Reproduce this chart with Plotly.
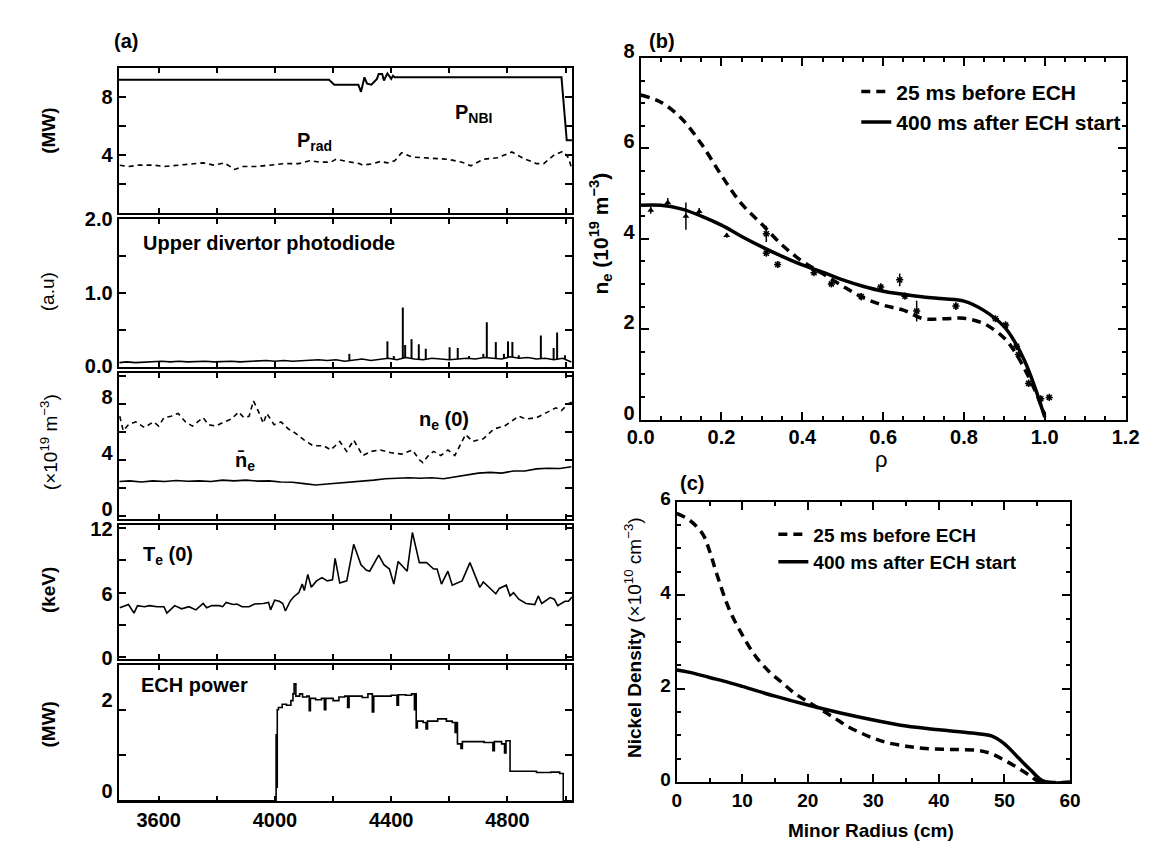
import numpy as np
import plotly.graph_objects as go

W, H = 1156, 848
FONT = "Liberation Sans, Arial, Helvetica, sans-serif"

# ---------------- panel (a) data ----------------
nbi_t = [3462, 4186, 4204, 4287, 4296, 4308, 4317, 4332, 4351, 4357, 4369, 4375, 4387, 4400, 4406, 4412, 4986, 5004, 5022]
nbi_v = [9.16, 9.16, 8.82, 8.82, 8.33, 9.33, 8.89, 8.82, 9.22, 9.56, 9.56, 9.11, 9.6, 9.22, 9.44, 9.33, 9.33, 5.0, 5.0]

prad_t = [3466, 3496, 3533, 3582, 3618, 3667, 3716, 3753, 3789, 3826, 3862, 3887, 3936, 3985, 4033, 4082,
          4119, 4155, 4192, 4210, 4253, 4290, 4302, 4339, 4363, 4387, 4412, 4436, 4473, 4534, 4595, 4644,
          4674, 4717, 4766, 4815, 4851, 4900, 4925, 4961, 4992, 5010, 5022]
prad_v = [3.29, 3.2, 3.3, 3.3, 3.2, 3.3, 3.35, 3.45, 3.3, 3.45, 3.0, 3.2, 3.2, 3.3, 3.4, 3.4,
          3.6, 3.5, 3.5, 3.7, 3.55, 3.4, 3.3, 3.4, 3.55, 3.45, 3.6, 4.15, 3.85, 3.8, 3.7, 3.5,
          3.25, 3.7, 3.8, 4.2, 3.8, 3.4, 3.4, 4.0, 4.25, 3.8, 3.0]

pd_t = [3465, 3490, 3520, 3550, 3580, 3610, 3640, 3670, 3700, 3730, 3760, 3790, 3820, 3850, 3880, 3910,
        3940, 3970, 4000, 4030, 4060, 4090, 4120, 4150, 4180, 4210, 4240, 4270, 4300, 4330, 4360, 4390,
        4420, 4450, 4480, 4510, 4540, 4570, 4600, 4630, 4660, 4690, 4720, 4750, 4780, 4810, 4840, 4870,
        4900, 4930, 4960, 4990, 5020]
pd_v = [0.05, 0.06, 0.05, 0.06, 0.06, 0.07, 0.06, 0.07, 0.06, 0.07, 0.07, 0.06, 0.07, 0.07, 0.06, 0.07,
        0.07, 0.08, 0.07, 0.08, 0.07, 0.08, 0.08, 0.09, 0.08, 0.09, 0.07, 0.08, 0.10, 0.08, 0.09, 0.11,
        0.09, 0.12, 0.10, 0.09, 0.11, 0.10, 0.09, 0.10, 0.11, 0.10, 0.12, 0.11, 0.10, 0.13, 0.11, 0.12,
        0.10, 0.11, 0.09, 0.11, 0.06]
spike_t = [4256, 4387, 4409, 4440, 4448, 4470, 4495, 4519, 4601, 4629, 4668, 4717, 4729, 4760, 4788,
           4802, 4817, 4839, 4915, 4959, 4971, 4998]
spike_v = [0.17, 0.34, 0.14, 0.80, 0.29, 0.37, 0.30, 0.24, 0.26, 0.25, 0.14, 0.17, 0.60, 0.33, 0.17,
           0.34, 0.33, 0.15, 0.42, 0.25, 0.46, 0.15]

ne0_t = [3466, 3478, 3496, 3521, 3551, 3582, 3600, 3618, 3643, 3667, 3692, 3716, 3734, 3753, 3771, 3795,
         3826, 3850, 3875, 3893, 3911, 3926, 3942, 3960, 3972, 3997, 4021, 4046, 4070, 4101, 4131, 4168,
         4192, 4223, 4247, 4271, 4302, 4332, 4363, 4400, 4436, 4473, 4497, 4509, 4528, 4546, 4571, 4595,
         4619, 4656, 4680, 4717, 4754, 4790, 4839, 4864, 4900, 4937, 4967, 4986, 5010, 5022]
ne0_v = [7.1, 6.06, 6.5, 6.7, 6.3, 6.7, 6.4, 7.0, 7.1, 7.3, 6.7, 6.4, 6.7, 7.0, 6.5, 6.4,
         6.7, 6.9, 7.4, 7.0, 7.1, 8.2, 7.5, 6.6, 7.3, 6.5, 6.7, 6.2, 5.9, 5.4, 5.0, 5.0,
         4.7, 5.3, 4.6, 5.4, 4.3, 4.6, 4.7, 4.5, 4.4, 4.7, 4.0, 3.8, 4.3, 4.6, 4.3, 4.7,
         4.3, 5.8, 5.3, 5.5, 6.2, 6.4, 7.1, 6.9, 7.0, 7.4, 7.7, 7.5, 8.0, 8.1]

nebar_t = [3465, 3500, 3540, 3580, 3620, 3660, 3700, 3740, 3780, 3820, 3860, 3900, 3940, 3980, 4020, 4060,
           4100, 4140, 4180, 4220, 4260, 4300, 4340, 4380, 4420, 4460, 4500, 4540, 4580, 4620, 4660, 4700,
           4740, 4780, 4820, 4860, 4900, 4940, 4980, 5020]
nebar_v = [2.45, 2.5, 2.42, 2.5, 2.45, 2.52, 2.47, 2.5, 2.45, 2.55, 2.5, 2.55, 2.48, 2.5, 2.42, 2.4,
           2.3, 2.2, 2.28, 2.35, 2.38, 2.5, 2.55, 2.65, 2.7, 2.72, 2.68, 2.72, 2.65, 2.8, 2.9, 3.05,
           3.1, 3.05, 3.2, 3.2, 3.35, 3.4, 3.38, 3.5]

te_t = [3466, 3496, 3515, 3527, 3551, 3569, 3594, 3618, 3628, 3655, 3679, 3704, 3728, 3753, 3765, 3783,
        3808, 3820, 3832, 3856, 3869, 3887, 3911, 3930, 3960, 3978, 3985, 3999, 4015, 4027, 4036, 4052,
        4064, 4082, 4094, 4101, 4113, 4125, 4143, 4162, 4180, 4198, 4207, 4223, 4247, 4271, 4296, 4314,
        4326, 4357, 4375, 4394, 4409, 4424, 4455, 4473, 4497, 4522, 4546, 4558, 4573, 4595, 4610, 4644,
        4671, 4705, 4717, 4741, 4760, 4772, 4796, 4809, 4821, 4839, 4864, 4894, 4906, 4918, 4947, 4961,
        4973, 4998, 5010, 5022]
te_v = [4.6, 4.9, 4.1, 4.8, 4.7, 4.8, 4.7, 4.7, 4.1, 4.8, 4.5, 4.7, 4.4, 5.0, 4.6, 4.8,
        4.8, 4.7, 5.1, 4.9, 4.95, 4.7, 4.7, 4.95, 5.0, 5.1, 4.4, 5.3, 5.2, 5.0, 4.3, 5.2,
        5.6, 6.0, 6.8, 6.2, 7.7, 6.5, 7.1, 7.4, 7.1, 7.2, 9.2, 6.9, 7.1, 10.5, 8.6, 8.1,
        8.0, 9.5, 8.6, 8.2, 6.8, 8.9, 8.0, 11.6, 8.8, 8.8, 8.2, 8.2, 6.8, 8.0, 6.7, 7.1,
        8.8, 6.5, 7.0, 6.4, 5.9, 6.4, 6.7, 5.7, 6.0, 5.4, 5.0, 4.9, 5.7, 5.0, 5.55, 5.4,
        4.8, 5.2, 5.2, 5.6]

ech_t = [3462, 4004, 4006, 4008, 4012, 4025, 4040, 4055, 4062, 4066, 4072, 4085, 4095, 4110, 4118,
         4122, 4140, 4160, 4170, 4175, 4200, 4220, 4240, 4250, 4255, 4280, 4300, 4320, 4335, 4340, 4370,
         4400, 4420, 4425, 4450, 4470, 4480, 4483, 4486, 4490, 4510, 4520, 4525, 4560, 4590, 4610, 4620,
         4624, 4628, 4640, 4645, 4680, 4720, 4750, 4755, 4780, 4790, 4795, 4809, 4850, 4900, 4950,
         4980, 4992, 5022]
ech_v = [0.0, 1.45, 0.3, 2.0, 2.05, 2.12, 2.1, 2.2, 2.35, 2.57, 2.3, 2.35, 2.28, 2.3, 1.98,
         2.25, 2.22, 2.25, 2.0, 2.25, 2.2, 2.28, 2.3, 2.05, 2.3, 2.3, 2.27, 2.35, 1.95, 2.3, 2.3,
         2.32, 2.1, 2.33, 2.32, 2.35, 2.0, 2.35, 1.6, 1.75, 1.72, 1.58, 1.75, 1.8, 1.75, 1.72, 1.5,
         1.72, 1.25, 1.15, 1.3, 1.3, 1.28, 1.1, 1.3, 1.25, 1.05, 1.32, 0.65, 0.65, 0.62, 0.63,
         0.6, 0.0, 0.0]

time_ticks = [3600, 3800, 4000, 4200, 4400, 4600, 4800, 5000]
time_labels = ["3600", "", "4000", "", "4400", "", "4800", ""]

# ---------------- panel (b) data ----------------
rho = [0.0, 0.05, 0.1, 0.15, 0.2, 0.25, 0.3, 0.35, 0.4, 0.45, 0.5, 0.55, 0.6, 0.65, 0.7, 0.75,
       0.8, 0.85, 0.9, 0.925, 0.95, 0.975, 1.0]
ne_before = [7.18, 7.02, 6.67, 6.1, 5.4, 4.77, 4.32, 3.86, 3.5, 3.23, 2.95, 2.7, 2.53, 2.42, 2.23, 2.23,
             2.24, 2.12, 1.8, 1.51, 1.12, 0.66, 0.1]
ne_after = [4.74, 4.74, 4.66, 4.5, 4.3, 4.05, 3.82, 3.61, 3.42, 3.26, 3.09, 2.95, 2.84, 2.77, 2.71, 2.67,
            2.62, 2.41, 2.05, 1.73, 1.3, 0.73, 0.05]
tri_rho = [0.025, 0.067, 0.112, 0.145, 0.213]
tri_ne = [4.63, 4.8, 4.5, 4.6, 4.07]
tri_err = [0.08, 0.1, 0.3, 0.08, 0.05]
ast_rho = [0.311, 0.311, 0.339, 0.429, 0.472, 0.546, 0.594, 0.641, 0.654, 0.683, 0.78, 0.878, 0.903,
           0.93, 0.935, 0.96, 0.99, 1.011]
ast_ne = [4.11, 3.68, 3.43, 3.25, 3.0, 2.72, 2.93, 3.09, 2.73, 2.40, 2.51, 2.23, 2.09, 1.62, 1.44,
          0.8, 0.46, 0.49]
ast_err = [0.18, 0.05, 0.08, 0.05, 0.05, 0.08, 0.08, 0.14, 0.05, 0.23, 0.08, 0.05, 0.08, 0.05, 0.05,
           0.08, 0.06, 0.0]

# ---------------- panel (c) data ----------------
r_before = [0, 2, 4, 5, 6, 8, 10, 12, 14, 16, 18, 20, 22, 24, 26, 28, 30, 32, 35, 38, 42, 46, 48,
            50, 52, 54, 55, 56, 60]
ni_before = [5.75, 5.6, 5.3, 4.95, 4.5, 3.7, 3.15, 2.7, 2.38, 2.14, 1.9, 1.72, 1.55, 1.38, 1.2, 1.06,
             0.94, 0.85, 0.77, 0.72, 0.70, 0.68, 0.61, 0.47, 0.31, 0.13, 0.03, 0.0, 0.0]
r_after = [0, 2, 5, 8, 10, 15, 20, 25, 30, 35, 40, 45, 48, 50, 52, 54, 56, 60]
ni_after = [2.4, 2.35, 2.24, 2.13, 2.05, 1.84, 1.65, 1.48, 1.33, 1.2, 1.12, 1.05, 0.99, 0.82, 0.54,
            0.26, 0.02, 0.0]


def px(x):
    return x / W


def py(y):
    return 1 - y / H


def frame_axis(size=20, **kw):
    d = dict(showline=True, linecolor="black", linewidth=2, mirror="ticks", ticks="inside",
             ticklen=6, tickwidth=1.5, tickcolor="black", showgrid=False, zeroline=False,
             tickfont=dict(family=FONT, size=size, color="black", weight="bold"))
    d.update(kw)
    return d


fig = go.Figure()
LW = 1.6

# panel (a) traces
fig.add_trace(go.Scatter(x=nbi_t, y=nbi_v, mode="lines", line=dict(color="black", width=2),
                         xaxis="x", yaxis="y", showlegend=False))
fig.add_trace(go.Scatter(x=prad_t, y=prad_v, mode="lines", line=dict(color="black", width=LW, dash="5px,4px"),
                         xaxis="x", yaxis="y", showlegend=False))
fig.add_trace(go.Scatter(x=pd_t, y=pd_v, mode="lines", line=dict(color="black", width=LW),
                         xaxis="x2", yaxis="y2", showlegend=False))
spike_base = np.interp(spike_t, pd_t, pd_v)
sx, sy = [], []
for t, v, b in zip(spike_t, spike_v, spike_base):
    sx += [t, t, None]
    sy += [b, v, None]
fig.add_trace(go.Scatter(x=sx, y=sy, mode="lines", line=dict(color="black", width=2),
                         xaxis="x2", yaxis="y2", showlegend=False))
fig.add_trace(go.Scatter(x=ne0_t, y=ne0_v, mode="lines", line=dict(color="black", width=LW, dash="5px,4px"),
                         xaxis="x3", yaxis="y3", showlegend=False))
fig.add_trace(go.Scatter(x=nebar_t, y=nebar_v, mode="lines", line=dict(color="black", width=LW),
                         xaxis="x3", yaxis="y3", showlegend=False))
fig.add_trace(go.Scatter(x=te_t, y=te_v, mode="lines", line=dict(color="black", width=LW),
                         xaxis="x4", yaxis="y4", showlegend=False))
fig.add_trace(go.Scatter(x=ech_t, y=ech_v, mode="lines", line=dict(color="black", width=LW, shape="hv"),
                         xaxis="x5", yaxis="y5", showlegend=False))

# panel (b)
fig.add_trace(go.Scatter(x=rho, y=ne_before, mode="lines", name="25 ms before ECH",
                         line=dict(color="black", width=3.5, dash="9px,6px", shape="spline"),
                         xaxis="x6", yaxis="y6", legend="legend"))
fig.add_trace(go.Scatter(x=rho, y=ne_after, mode="lines", name="400 ms after ECH start",
                         line=dict(color="black", width=3.5, shape="spline"),
                         xaxis="x6", yaxis="y6", legend="legend"))
fig.add_trace(go.Scatter(x=tri_rho, y=tri_ne, mode="markers",
                         marker=dict(symbol="triangle-up", size=6, color="black"),
                         error_y=dict(type="data", array=tri_err, color="black", thickness=1.5, width=0),
                         xaxis="x6", yaxis="y6", showlegend=False))
fig.add_trace(go.Scatter(x=ast_rho, y=ast_ne, mode="markers",
                         marker=dict(symbol="asterisk-open", size=6, color="black",
                                     line=dict(color="black", width=1.5)),
                         error_y=dict(type="data", array=ast_err, color="black", thickness=1.5, width=0),
                         xaxis="x6", yaxis="y6", showlegend=False))

# panel (c)
fig.add_trace(go.Scatter(x=r_before, y=ni_before, mode="lines", name="25 ms before ECH",
                         line=dict(color="black", width=3.5, dash="9px,6px", shape="spline"),
                         xaxis="x7", yaxis="y7", legend="legend2"))
fig.add_trace(go.Scatter(x=r_after, y=ni_after, mode="lines", name="400 ms after ECH start",
                         line=dict(color="black", width=3.5, shape="spline"),
                         xaxis="x7", yaxis="y7", legend="legend2"))

# ---------------- layout ----------------
ax_l, ax_r = 99, 563.6
subs = [(43, 193.5), (199.3, 352.7), (359.3, 510), (516, 655), (661, 801.7)]
y_ranges = [[0, 10], [-0.01, 2.01], [-0.23, 10.15], [-0.2, 12.3], [-0.01, 2.98]]
y_tickvals = [[2, 4, 6, 8], [0, 0.5, 1, 1.5, 2], [0, 2, 4, 6, 8, 10], [0, 3, 6, 9, 12], [0, 1, 2]]
y_ticktext = [["", "4", "", "8"], ["0.0", "", "1.0", "", "2.0"], ["0", "", "4", "", "8", ""],
              ["0", "", "6", "", "12"], ["0", "", "2"]]
y_shift = [0, 0, -7, 1, -10]

layout = dict(width=W, height=H, margin=dict(l=0, r=0, t=0, b=0), plot_bgcolor="white",
              paper_bgcolor="white", font=dict(family=FONT, size=20, color="black", weight="bold"))
for i, (top, bot) in enumerate(subs):
    n = i + 1
    xk = "xaxis" if n == 1 else f"xaxis{n}"
    yk = "yaxis" if n == 1 else f"yaxis{n}"
    layout[xk] = frame_axis(domain=[px(ax_l), px(ax_r)], range=[3462, 5022], anchor=f"y{n if n > 1 else ''}",
                            tickvals=time_ticks, ticktext=time_labels, showticklabels=(n == 5), ticklen=5)
    layout[yk] = frame_axis(domain=[py(bot), py(top)], range=y_ranges[i], anchor=f"x{n if n > 1 else ''}",
                            tickvals=y_tickvals[i], ticktext=y_ticktext[i], ticklen=7,
                            ticklabelshift=y_shift[i])

minor_style = dict(ticks="inside", ticklen=4, tickwidth=1.5, tickcolor="black")
layout["xaxis6"] = frame_axis(domain=[px(634), px(1131)], range=[0, 1.2], anchor="y6", dtick=0.2,
                              tickformat=".1f", ticklen=8, ticklabelstandoff=-2,
                              minor=dict(dtick=0.05, **minor_style))
layout["yaxis6"] = frame_axis(domain=[py(407), py(33)], range=[0, 8], anchor="x6", dtick=2, ticklen=8,
                              ticklabelshift=-7, minor=dict(dtick=0.5, **minor_style))
layout["xaxis7"] = frame_axis(size=19, domain=[px(671), px(1074)], range=[0, 60], anchor="y7", dtick=10,
                              ticklen=8, minor=dict(dtick=5, **minor_style))
layout["yaxis7"] = frame_axis(size=19, domain=[py(782), py(492)], range=[0, 6], anchor="x7", dtick=2,
                              ticklen=8, ticklabelshift=-3, minor=dict(dtick=0.5, **minor_style))

layout["legend"] = dict(x=px(855), y=py(47), xanchor="left", yanchor="top", bgcolor="rgba(0,0,0,0)",
                        font=dict(family=FONT, size=21, color="black", weight="bold"), tracegroupgap=0)
layout["legend2"] = dict(x=px(770), y=py(506), xanchor="left", yanchor="top", bgcolor="rgba(0,0,0,0)",
                         font=dict(family=FONT, size=19, color="black", weight="bold"), tracegroupgap=0)


def ann(text, x, y, size=20, xanchor="left", yanchor="middle", angle=0, weight="bold"):
    return dict(text=text, x=px(x), y=py(y), xref="paper", yref="paper", xanchor=xanchor, yanchor=yanchor,
                showarrow=False, textangle=angle,
                font=dict(family=FONT, size=size, color="black", weight=weight))


annotations = [
    ann("(a)", 107, 15, xanchor="center"),
    ann("(b)", 656, 15, xanchor="center"),
    ann("(c)", 687, 473, xanchor="center"),
    ann("P<sub>rad</sub>", 280, 119),
    ann("P<sub>NBI</sub>", 442, 90),
    ann("Upper divertor photodiode", 122, 224),
    ann("n<sub>e</sub> (0)", 405, 408),
    ann("n\u0304<sub>e</sub>", 216, 450),
    ann("T<sub>e</sub> (0)", 122, 548),
    ann("ECH power", 120, 682),
    ann("(MW)", 27, 108, size=19, xanchor="center", angle=-90),
    ann("(a.u)", 27, 275, size=19, xanchor="center", angle=-90, weight="normal"),
    ann("(\u00d710<sup>19</sup> m<sup>\u22123</sup>)", 27, 430, size=19, xanchor="center", angle=-90,
        weight="normal"),
    ann("(keV)", 27, 583, size=19, xanchor="center", angle=-90),
    ann("(MW)", 27, 722, size=19, xanchor="center", angle=-90),
    ann("\u03c1", 881, 433, size=22, xanchor="center", yanchor="top", weight="normal"),
    ann("n<sub>e</sub> (10<sup>19</sup> m<sup>\u22123</sup>)", 593, 215, size=21, xanchor="center", angle=-90),
    ann("Minor Radius (cm)", 870, 832, size=19, xanchor="center"),
    ann("<b>Nickel Density</b> (\u00d710<sup>10</sup> cm<sup>\u22123</sup>)", 626, 632, size=19,
        xanchor="center", angle=-90, weight="normal"),
]
layout["annotations"] = annotations
fig.update_layout(**layout)

fig.write_html("out.html")
